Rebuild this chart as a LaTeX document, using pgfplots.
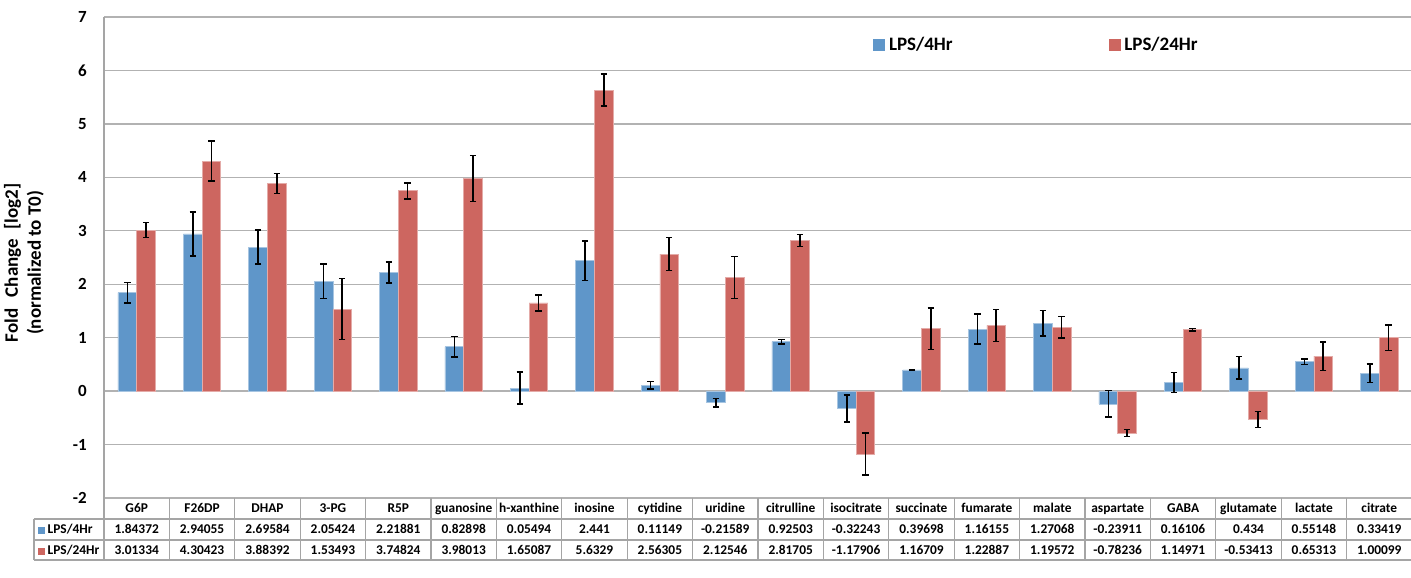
\documentclass[border=0pt]{standalone}
\usepackage{fontspec}
\setmainfont{Carlito}
\usepackage{pgfplots}
\usepackage{pgfplotstable}
\pgfplotsset{compat=1.18}

\definecolor{lpsfour}{RGB}{95,150,201}
\definecolor{lpstwentyfour}{RGB}{205,102,96}
\definecolor{gridgray}{RGB}{178,178,178}
\definecolor{rulegray}{RGB}{165,165,165}

% log2 fold change (normalized to T0) with error half-widths
\pgfplotstableread{
name y4 e4 y24 e24
G6P 1.84372 0.19 3.01334 0.14
F26DP 2.94055 0.41 4.30423 0.37
DHAP 2.69584 0.32 3.88392 0.19
3-PG 2.05424 0.32 1.53493 0.57
R5P 2.21881 0.20 3.74824 0.15
guanosine 0.82898 0.19 3.98013 0.43
h-xanthine 0.05494 0.30 1.65087 0.15
inosine 2.441 0.37 5.6329 0.30
cytidine 0.11149 0.07 2.56305 0.31
uridine -0.21589 0.08 2.12546 0.39
citrulline 0.92503 0.04 2.81705 0.11
isocitrate -0.32243 0.25 -1.17906 0.39
succinate 0.39698 0.01 1.16709 0.39
fumarate 1.16155 0.28 1.22887 0.30
malate 1.27068 0.24 1.19572 0.20
aspartate -0.23911 0.25 -0.78236 0.065
GABA 0.16106 0.19 1.14971 0.02
glutamate 0.434 0.21 -0.53413 0.15
lactate 0.55148 0.05 0.65313 0.27
citrate 0.33419 0.17 1.00099 0.24
}\metab

% one column of the data table under the chart
\newcommand\tabcell[1]{%
  \pgfplotstablegetelem{#1}{name}\of\metab\let\cname\pgfplotsretval
  \pgfplotstablegetelem{#1}{y4}\of\metab\let\cfour\pgfplotsretval
  \pgfplotstablegetelem{#1}{y24}\of\metab\let\ctwenty\pgfplotsretval
  \begin{tabular}{@{}c@{}}\cname\\ \cfour\\ \ctwenty\end{tabular}}

\begin{document}
\begin{tikzpicture}
\path[use as bounding box] (0,0) rectangle (1411pt,578pt);
\begin{axis}[
  at={(104pt,80pt)}, anchor=south west,
  width=1308pt, height=481pt, scale only axis,
  xmin=-0.5, xmax=19.5, ymin=-2, ymax=7,
  ybar, bar width=18.7pt,
  xtick={0,...,19}, ytick={-2,...,7},
  major tick length=0pt,
  axis line style={draw=none},
  ymajorgrids, major grid style={gridgray, line width=1.3pt},
  /pgf/number format/assume math mode=true,
  yticklabel style={font=\fontsize{17}{17}\selectfont\bfseries, anchor=east, inner sep=0pt, xshift=-17pt},
  xticklabel={\tabcell{\ticknum}},
  xticklabel style={font=\fontsize{13.4}{21}\selectfont\bfseries, anchor=north, inner sep=0pt},
  ylabel={Fold\hspace{0.6em}Change\hspace{0.5em}[log2]\\(normalized to T0)},
  ylabel style={font=\fontsize{19}{23}\selectfont\bfseries, align=center, at={(axis description cs:-0.0612,0.489)}, anchor=center, rotate=0},
  clip=false,
  legend columns=2,
  legend style={at={(axis cs:11.26,6.48)}, anchor=west, draw=none, fill=none, inner sep=0pt,
    font=\fontsize{19}{19}\selectfont\bfseries, nodes={inner sep=0pt},
    /tikz/every odd column/.append style={column sep=4pt},
    /tikz/every even column/.append style={column sep=156pt}},
]
\addplot[fill=lpsfour, draw=lpsfour!55!white, line width=0.7pt, bar shift=-9.35pt,
  legend image code/.code={\fill[lpsfour] (0pt,-5.5pt) rectangle (11pt,5.5pt);},
  error bars/.cd, y dir=both, y explicit,
  error bar style={black, line width=1.6pt},
  error mark options={rotate=90, mark size=3.2pt, line width=1.6pt, black}]
  table[x expr=\coordindex, y=y4, y error=e4] {\metab};
\addlegendentry{LPS/4Hr}
\addplot[fill=lpstwentyfour, draw=lpstwentyfour!55!white, line width=0.7pt, bar shift=9.35pt,
  legend image code/.code={\fill[lpstwentyfour] (0pt,-5.5pt) rectangle (11pt,5.5pt);},
  error bars/.cd, y dir=both, y explicit,
  error bar style={black, line width=1.6pt},
  error mark options={rotate=90, mark size=3.2pt, line width=1.6pt, black}]
  table[x expr=\coordindex, y=y24, y error=e24] {\metab};
\addlegendentry{LPS/24Hr}

% value axis and data-table rules
\draw[rulegray, line width=1.3pt] (rel axis cs:0,1) -- ([yshift=-62pt]rel axis cs:0,0);
\pgfplotsinvokeforeach{21,42,62}{
  \draw[rulegray, line width=1.3pt] ([xshift=-70pt,yshift=-#1pt]rel axis cs:0,0) -- ([yshift=-#1pt]rel axis cs:1,0);
}
\draw[rulegray, line width=1.3pt] ([xshift=-70pt,yshift=-21pt]rel axis cs:0,0) -- ([xshift=-70pt,yshift=-62pt]rel axis cs:0,0);
\pgfplotsinvokeforeach{0,...,19}{
  \draw[rulegray, line width=1.3pt] (axis cs:#1+0.5,-2) -- ([yshift=-62pt]axis cs:#1+0.5,-2);
}
\node[anchor=base west, inner sep=0pt, font=\fontsize{13.4}{16}\selectfont\bfseries]
  at ([xshift=-66pt,yshift=-35.7pt]rel axis cs:0,0) {\textcolor{lpsfour}{\rule{7pt}{7pt}}\hspace{2.5pt}LPS/4Hr};
\node[anchor=base west, inner sep=0pt, font=\fontsize{13.4}{16}\selectfont\bfseries]
  at ([xshift=-66pt,yshift=-56.7pt]rel axis cs:0,0) {\textcolor{lpstwentyfour}{\rule{7pt}{7pt}}\hspace{2.5pt}LPS/24Hr};
\end{axis}
\end{tikzpicture}
\end{document}
